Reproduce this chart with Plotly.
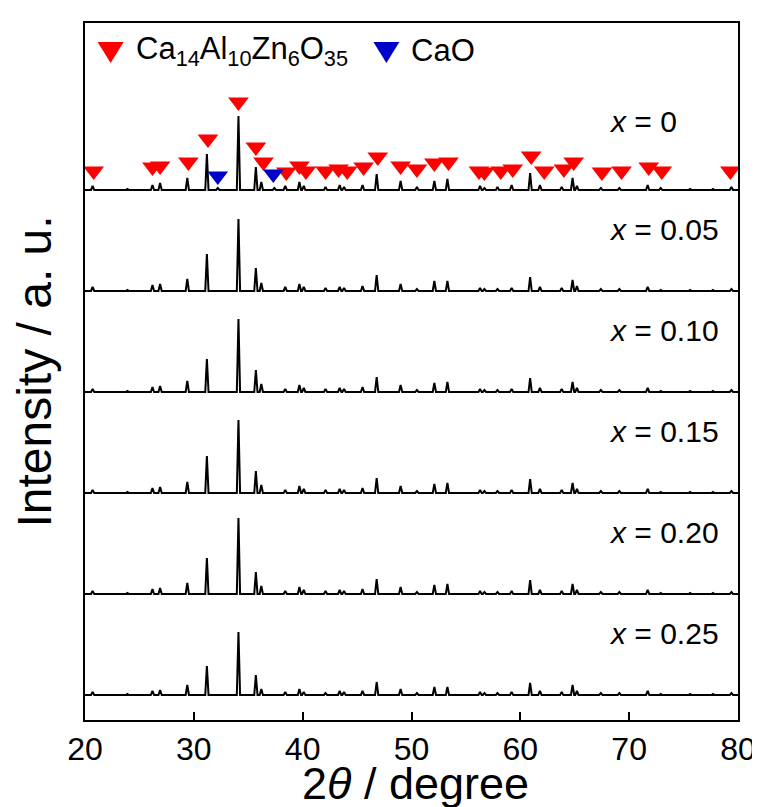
import plotly.graph_objects as go

# peak positions (2theta, degree) shared by all patterns
peak_pos = [20.7, 23.9, 26.2, 26.9, 29.4, 31.2, 32.2, 34.1, 35.7, 36.2, 37.4, 38.4, 39.7, 40.1,
            42.1, 43.4, 43.8, 45.5, 46.8, 49.0, 50.5, 52.1, 53.3, 56.3, 56.7, 57.9, 59.2, 60.9,
            61.8, 63.8, 64.8, 65.2, 67.4, 69.1, 71.7, 72.9, 75.6, 77.7, 79.4]

samples = ['0', '0.05', '0.10', '0.15', '0.20', '0.25']

# peak heights (a.u.), one list per sample
int_x000 = [4, 1, 5, 7, 12, 36, 2, 74, 23, 8, 2, 4, 8, 4, 3, 5, 3, 5, 16, 9, 3, 9, 11, 4, 2, 3, 5, 17, 5, 3, 12, 4, 2, 2, 5, 2, 1, 1, 3]
int_x005 = [4, 1, 6, 7, 12, 37, 0, 72, 23, 8, 0, 4, 7, 4, 3, 4, 3, 5, 16, 7, 2, 10, 10, 3, 2, 2, 3, 14, 4, 3, 11, 5, 2, 2, 4, 1, 1, 1, 2]
int_x010 = [3, 1, 5, 6, 11, 33, 0, 73, 22, 8, 0, 3, 7, 4, 3, 4, 3, 5, 15, 7, 2, 9, 10, 3, 2, 2, 3, 14, 4, 3, 10, 4, 2, 2, 4, 1, 1, 1, 2]
int_x015 = [3, 1, 5, 6, 11, 37, 0, 73, 22, 8, 0, 3, 7, 4, 3, 4, 3, 5, 15, 7, 2, 9, 10, 3, 2, 2, 3, 14, 4, 3, 10, 4, 2, 2, 4, 1, 1, 1, 2]
int_x020 = [3, 1, 5, 6, 11, 36, 0, 76, 22, 8, 0, 3, 7, 4, 3, 4, 3, 5, 15, 7, 2, 9, 10, 3, 2, 2, 3, 14, 4, 3, 10, 4, 2, 2, 4, 1, 1, 1, 2]
int_x025 = [3, 1, 4, 5, 10, 29, 0, 63, 20, 6, 0, 3, 6, 3, 2, 4, 3, 4, 13, 6, 2, 8, 8, 3, 2, 2, 3, 12, 4, 3, 10, 4, 2, 2, 4, 1, 1, 1, 2]
intensities = [int_x000, int_x005, int_x010, int_x015, int_x020, int_x025]

# phase markers on the x = 0 pattern (position, height of marker)
ca14_pos = [20.8, 26.2, 26.9, 29.5, 31.3, 34.1, 35.7, 36.4, 38.5, 39.7, 40.3, 42.1, 43.3, 44.1,
            45.6, 46.9, 49.0, 50.5, 52.1, 53.4, 56.2, 56.7, 58.2, 59.3, 61.0, 62.2, 64.0, 64.9,
            67.5, 69.3, 71.8, 73.0, 79.3]
ca14_h = [19, 23, 24, 28, 51, 88, 43, 28, 18, 24, 19, 19, 21, 19, 23, 33, 24, 21, 27, 28, 19,
          18, 19, 21, 34, 19, 21, 28, 18, 19, 23, 19, 19]
cao_pos = [32.2, 37.3]
cao_h = [14, 16]

phases = ['Ca<sub>14</sub>Al<sub>10</sub>Zn<sub>6</sub>O<sub>35</sub>', 'CaO']
phase_colors = ['#ff0000', '#0000cc']

spacing = 101
half_w = 0.15

fig = go.Figure()

for i, (name, ints) in enumerate(zip(samples, intensities)):
    base = (len(samples) - 1 - i) * spacing
    xs, ys = [20], [base]
    for p, h in zip(peak_pos, ints):
        xs += [p - half_w, p, p + half_w]
        ys += [base, base + h, base]
    xs.append(80)
    ys.append(base)
    fig.add_trace(go.Scatter(x=xs, y=ys, mode='lines', line=dict(color='black', width=2),
                             showlegend=False, hoverinfo='skip'))
    lab_y = base + (69 if i == 0 else 62)
    fig.add_annotation(x=68.0, y=lab_y, text=f'<i>x</i> = {name}', showarrow=False,
                       xanchor='left', yanchor='middle', font=dict(size=30, color='black'))

top = (len(samples) - 1) * spacing
for pos, hts, col in zip([ca14_pos, cao_pos], [ca14_h, cao_h], phase_colors):
    fig.add_trace(go.Scatter(x=pos, y=[top + h for h in hts], mode='markers',
                             marker=dict(symbol='triangle-down', size=18, color=col),
                             showlegend=False))

# legend drawn by hand so the symbols can be as large as in the original
leg_y = 1 - (43 - 15) / 697
for j, (label, col) in enumerate(zip(phases, phase_colors)):
    sym_x = (103 - 77) / 663 if j == 0 else (383 - 77) / 663
    txt_x = (127 - 77) / 663 if j == 0 else (406 - 77) / 663
    fig.add_shape(type='path', xref='paper', yref='paper', xsizemode='pixel', ysizemode='pixel',
                  xanchor=sym_x, yanchor=leg_y, path='M -13 9 L 13 9 L 0 -12 Z',
                  fillcolor=col, line=dict(width=0))
    fig.add_annotation(xref='paper', yref='paper', x=txt_x, y=leg_y, text=label, showarrow=False,
                       xanchor='left', yanchor='middle', font=dict(size=31, color='black'))

# x-axis title placed by hand, it sits tight against the bottom edge
fig.add_annotation(xref='paper', yref='paper', x=(413 - 77) / 663, y=-(803 - 712) / 697,
                   text='2<i>θ</i> / degree', showarrow=False, xanchor='center', yanchor='bottom',
                   font=dict(size=45, color='black'))

fig.update_xaxes(range=[20, 80], tickvals=[20, 30, 40, 50, 60, 70, 80], ticks='inside', ticklen=8,
                 tickwidth=2, tickcolor='black', showline=True, linewidth=2, linecolor='black',
                 mirror=True, showgrid=False, zeroline=False,
                 tickfont=dict(size=32, color='black'))
fig.update_yaxes(range=[-25, 672], showticklabels=False, ticks='', showline=True, linewidth=2,
                 linecolor='black', mirror=True, showgrid=False, zeroline=False,
                 title=dict(text='Intensity / a. u.', font=dict(size=48, color='black'), standoff=24))

fig.update_layout(width=760, height=807, margin=dict(l=77, r=20, t=15, b=95),
                  plot_bgcolor='white', paper_bgcolor='white',
                  font=dict(family='Arial, Liberation Sans, sans-serif', color='black'))

fig.write_html('out.html')
